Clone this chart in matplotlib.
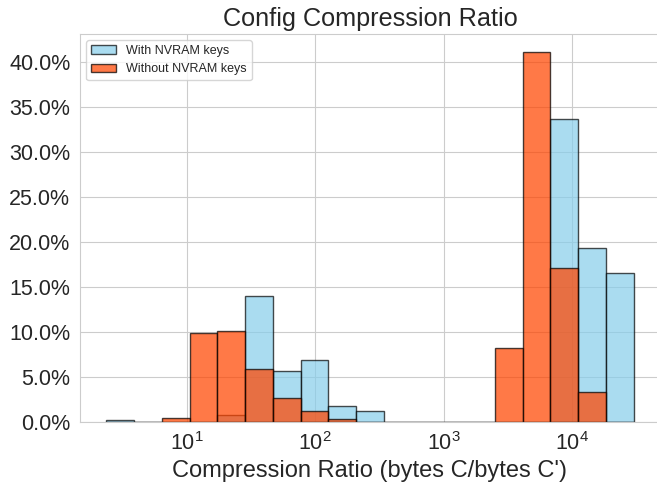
import matplotlib
matplotlib.use("Agg")
import matplotlib.pyplot as plt
import numpy as np
import seaborn as sns
from matplotlib.ticker import PercentFormatter

# histogram range of compression ratios (log-spaced bins)
ratio_min = 2.36
ratio_max = 30060.0
n_bins = 19

# percentage of configs per bin
with_nvram = [0.22, 0.0, 0.0, 0.0, 0.8, 14.03, 5.7, 6.89, 1.8, 1.18,
              0.0, 0.0, 0.0, 0.0, 0.0, 0.0, 33.67, 19.33, 16.56]
without_nvram = [0.0, 0.0, 0.44, 9.89, 10.1, 5.89, 2.7, 1.18, 0.37, 0.0,
                 0.0, 0.0, 0.0, 0.0, 8.18, 41.07, 17.07, 3.33, 0.0]

sns.set_style("whitegrid")
plt.rcParams['font.family'] = ['Liberation Sans', 'DejaVu Sans']

bins = np.logspace(np.log10(ratio_min), np.log10(ratio_max), n_bins + 1)
centers = np.sqrt(bins[:-1] * bins[1:])

fig = plt.figure(figsize=(6.57, 4.87), dpi=100)
ax = fig.add_axes([80 / 657, 65 / 487, 580 / 657, 388 / 487])

ax.hist(centers, bins=bins, weights=with_nvram, color='skyblue', alpha=0.7,
        edgecolor='black', linewidth=1, label='With NVRAM keys')
ax.hist(centers, bins=bins, weights=without_nvram, color='orangered', alpha=0.72,
        edgecolor='black', linewidth=1, label='Without NVRAM keys')

ax.set_xscale('log')
ax.yaxis.set_major_formatter(PercentFormatter(100, decimals=1))
ax.set_yticks(np.arange(0, 41, 5))
ax.tick_params(axis='both', labelsize=15.5)
ax.set_xlabel("Compression Ratio (bytes C/bytes C')", fontsize=17)
ax.set_title('Config Compression Ratio', fontsize=18.2)
ax.legend(loc='upper left', fontsize=9)

fig.savefig('out.png', dpi=100)
